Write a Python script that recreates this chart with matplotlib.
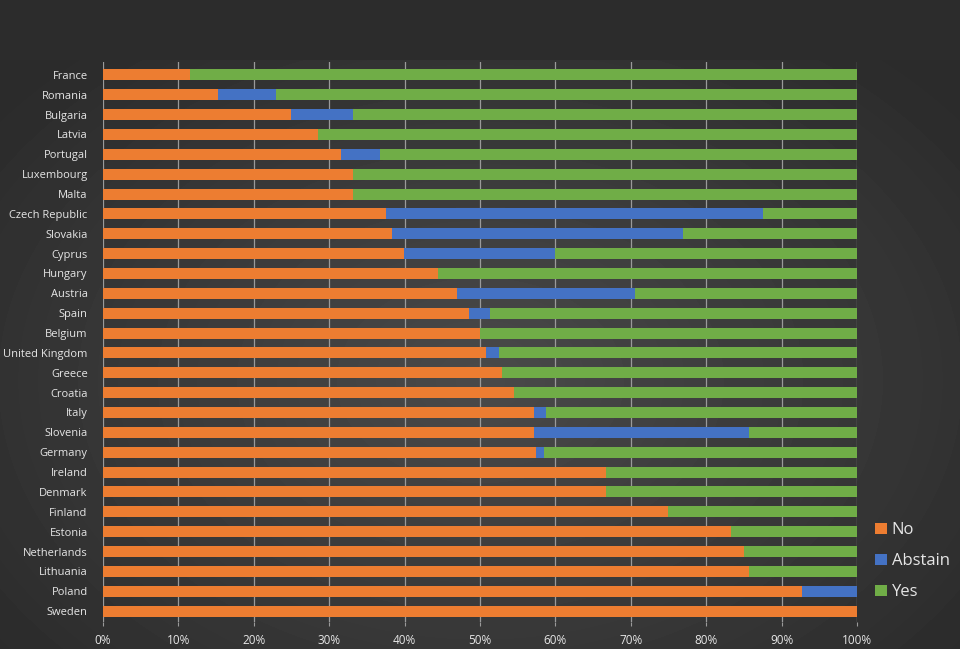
import numpy as np
import matplotlib.pyplot as plt
from matplotlib.ticker import PercentFormatter

# data (share of votes, %)
countries = ["France", "Romania", "Bulgaria", "Latvia", "Portugal", "Luxembourg", "Malta",
             "Czech Republic", "Slovakia", "Cyprus", "Hungary", "Austria", "Spain", "Belgium",
             "United Kingdom", "Greece", "Croatia", "Italy", "Slovenia", "Germany", "Ireland",
             "Denmark", "Finland", "Estonia", "Netherlands", "Lithuania", "Poland", "Sweden"]
no = [11.5, 15.3, 24.9, 28.5, 31.6, 33.2, 33.2, 37.5, 38.3, 39.9, 44.4, 47.0, 48.5, 50.0,
      50.8, 52.9, 54.5, 57.2, 57.2, 57.4, 66.7, 66.7, 74.9, 83.3, 85.0, 85.7, 92.7, 100.0]
abstain = [0.0, 7.6, 8.3, 0.0, 5.1, 0.0, 0.0, 50.0, 38.6, 20.1, 0.0, 23.5, 2.8, 0.0,
           1.7, 0.0, 0.0, 1.6, 28.5, 1.1, 0.0, 0.0, 0.0, 0.0, 0.0, 0.0, 7.3, 0.0]
yes = [100 - a - b for a, b in zip(no, abstain)]

orange = "#ED7D31"
blue = "#4472C4"
green = "#70AD47"
txt = "#e6e6e6"

fig = plt.figure(figsize=(9.6, 6.49), dpi=100)
fig.patch.set_facecolor("#2b2b2b")

# radial spotlight background, flat dark band above the plot
bg = fig.add_axes([0, 0, 1, 1], zorder=0)
yy, xx = np.mgrid[0:649, 0:960]
r = np.sqrt(((xx - 480) / 560.0) ** 2 + ((yy - 380) / 400.0) ** 2)
shade = np.clip(0.29 - 0.11 * r, 0.17, 0.29)
shade[:60, :] = 0.175
bg.imshow(shade, cmap="gray", vmin=0, vmax=1, aspect="auto", extent=[0, 1, 0, 1])
bg.axis("off")

ax = fig.add_axes([103 / 960, 1 - 622 / 649, 754 / 960, 560 / 649], zorder=1)
ax.set_facecolor("none")

pos = np.arange(len(countries))
h = 0.55
left2 = [a + b for a, b in zip(no, abstain)]
ax.barh(pos, no, height=h, color=orange, label="No", zorder=3)
ax.barh(pos, abstain, left=no, height=h, color=blue, label="Abstain", zorder=3)
ax.barh(pos, yes, left=left2, height=h, color=green, label="Yes", zorder=3)

ax.set_xlim(0, 100)
ax.set_ylim(len(countries) - 0.45, -0.65)
ax.set_yticks(pos)
ax.set_yticklabels(countries)
ax.set_xticks(np.arange(0, 101, 10))
ax.xaxis.set_major_formatter(PercentFormatter(decimals=0))
ax.grid(axis="x", color="#9a9a9a", linewidth=0.9, zorder=0)
for s in ax.spines.values():
    s.set_visible(False)
ax.tick_params(axis="y", length=0, pad=11, labelsize=8, labelcolor=txt)
ax.tick_params(axis="x", length=3, color="#9a9a9a", pad=6, labelsize=8.5, labelcolor=txt)
for lab in ax.get_yticklabels() + ax.get_xticklabels():
    lab.set_family(["Open Sans", "DejaVu Sans"])

leg = fig.legend(loc="center left", bbox_to_anchor=(0.896, 0.135), frameon=False,
                 handlelength=0.7, handleheight=0.7, handletextpad=0.3,
                 labelspacing=0.9, prop={"family": ["Open Sans", "DejaVu Sans"], "size": 12})
for t in leg.get_texts():
    t.set_color(txt)

fig.savefig("out.png", dpi=100, facecolor=fig.get_facecolor())
